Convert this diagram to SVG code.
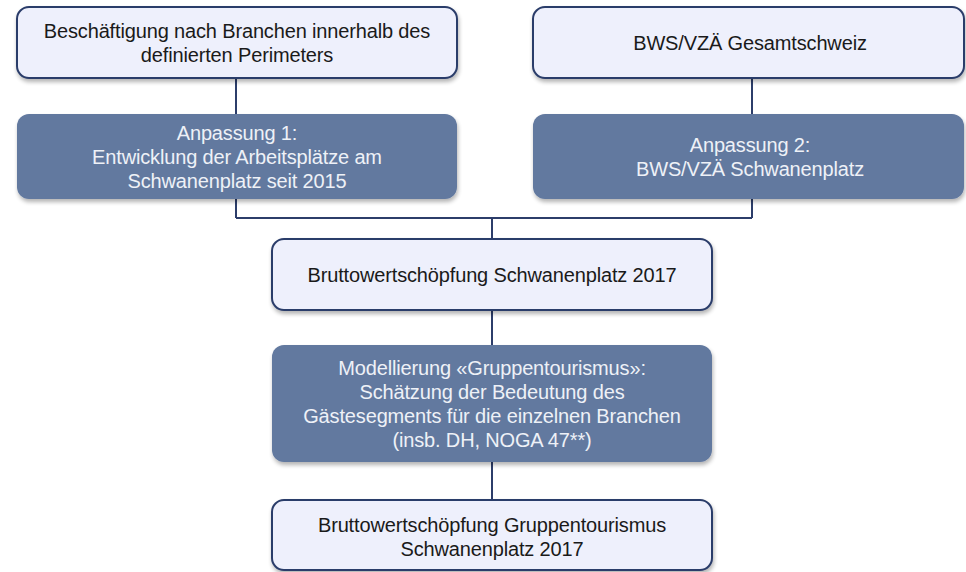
<svg xmlns="http://www.w3.org/2000/svg" width="966" height="572" viewBox="0 0 966 572">
<defs>
<filter id="sh" x="-5%" y="-10%" width="110%" height="130%">
<feGaussianBlur in="SourceAlpha" stdDeviation="2"/>
<feOffset dx="1" dy="3" result="b"/>
<feComponentTransfer><feFuncA type="linear" slope="0.3"/></feComponentTransfer>
<feMerge><feMergeNode/><feMergeNode in="SourceGraphic"/></feMerge>
</filter>
</defs>
<style>
.lt{fill:#eef0fc;stroke:#2c3d6a;stroke-width:2}
.dk{fill:#62799f}
.tl{font-family:"Liberation Sans",Arial,sans-serif;font-size:20px;fill:#1a1a1a;text-anchor:middle;letter-spacing:-0.15px}
.td{font-family:"Liberation Sans",Arial,sans-serif;font-size:20px;fill:#eef1f7;text-anchor:middle;letter-spacing:-0.15px}
.cn{fill:none;stroke:#2c3d6a;stroke-width:2}
</style>
<rect width="966" height="572" fill="#ffffff"/>
<g id="connectors">
<path class="cn" d="M236 78V218M752 78V218M236 218H752M492 218V239M492 310V345M492 462V500"/>
</g>
<g id="n1"><rect class="lt" x="17" y="7" width="440" height="71" rx="12" filter="url(#sh)"/>
<text class="tl" x="237" y="38">Beschäftigung nach Branchen innerhalb des</text>
<text class="tl" x="237" y="62">definierten Perimeters</text></g>
<g id="n2"><rect class="lt" x="533" y="7" width="431" height="71" rx="12" filter="url(#sh)"/>
<text class="tl" x="750" y="50">BWS/VZÄ Gesamtschweiz</text></g>
<g id="n3"><rect class="dk" x="17" y="114" width="440" height="85" rx="12" filter="url(#sh)"/>
<text class="td" x="237" y="140">Anpassung 1:</text>
<text class="td" x="237" y="164">Entwicklung der Arbeitsplätze am</text>
<text class="td" x="237" y="188">Schwanenplatz seit 2015</text></g>
<g id="n4"><rect class="dk" x="533" y="114" width="431" height="85" rx="12" filter="url(#sh)"/>
<text class="td" x="750" y="152">Anpassung 2:</text>
<text class="td" x="750" y="176">BWS/VZÄ Schwanenplatz</text></g>
<g id="n5"><rect class="lt" x="272" y="239" width="440" height="71" rx="12" filter="url(#sh)"/>
<text class="tl" x="492" y="282">Bruttowertschöpfung Schwanenplatz 2017</text></g>
<g id="n6"><rect class="dk" x="272" y="345" width="440" height="117" rx="12" filter="url(#sh)"/>
<text class="td" x="492" y="375">Modellierung «Gruppentourismus»:</text>
<text class="td" x="492" y="399">Schätzung der Bedeutung des</text>
<text class="td" x="492" y="423">Gästesegments für die einzelnen Branchen</text>
<text class="td" x="492" y="447">(insb. DH, NOGA 47**)</text></g>
<g id="n7"><rect class="lt" x="272" y="500" width="440" height="70" rx="12" filter="url(#sh)"/>
<text class="tl" x="492" y="532">Bruttowertschöpfung Gruppentourismus</text>
<text class="tl" x="492" y="556">Schwanenplatz 2017</text></g>
</svg>
